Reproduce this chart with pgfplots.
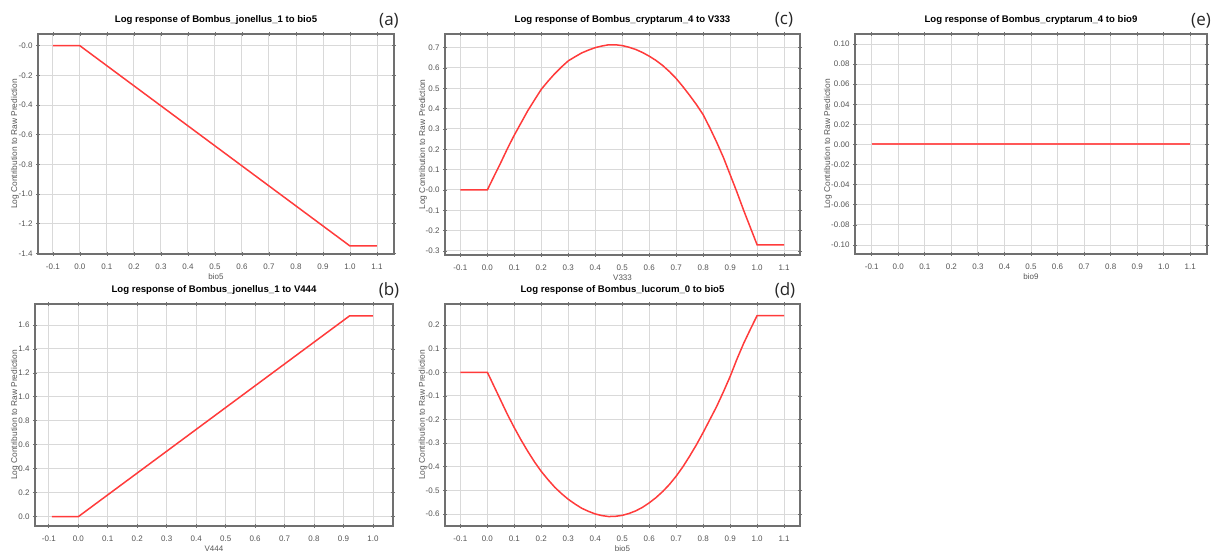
\documentclass[border=0pt]{standalone}
\usepackage{fontspec}
\setmainfont{Liberation Sans}
\newfontfamily\letterfont{Open Sans}
\usepackage{pgfplots}
\pgfplotsset{compat=1.18}
\definecolor{curve}{HTML}{FF3B3B}
\definecolor{gridc}{HTML}{D9D9D9}
\definecolor{framec}{HTML}{707070}
\definecolor{labc}{HTML}{555555}
\pgfplotsset{
  resp/.style={
    scale only axis,
    anchor=south west,
    axis line style={framec, line width=1.1pt},
    grid=major,
    major grid style={gridc, line width=0.9pt},
    tick style={framec, line width=0.7pt},
    major tick length=4pt,
    tick align=center,
    ticklabel style={font=\fontsize{8}{9}\selectfont, text=labc},
    xticklabel style={anchor=center, yshift=-11pt},
    xlabel style={font=\fontsize{8}{9}\selectfont, text=labc, at={(axis description cs:0.5,0)}, anchor=center, yshift=-22.5pt},
    ylabel style={font=\fontsize{8.4}{9}\selectfont, text=labc, anchor=center},
    title style={font=\bfseries\fontsize{9.6}{10}\selectfont, at={(axis description cs:0.5,1)}, anchor=south, yshift=0.3pt},
    ylabel={Log Contribution to Raw Prediction},
  },
  rline/.style={color=curve, line width=1.5pt, mark=none},
  x12/.style={xtick={-0.1,0,0.1,0.2,0.3,0.4,0.5,0.6,0.7,0.8,0.9,1,1.1},
    xticklabels={-0.1,0.0,0.1,0.2,0.3,0.4,0.5,0.6,0.7,0.8,0.9,1.0,1.1}},
}
\begin{document}
\begin{tikzpicture}
\useasboundingbox (0,0) rectangle (1220pt,551pt);
% (a)
\begin{axis}[resp, x12, at={(38pt,297pt)}, width=356pt, height=220pt,
  xmin=-0.155, xmax=1.163, ymin=-1.404, ymax=0.079,
  ytick={-1.4,-1.2,-1.0,-0.8,-0.6,-0.4,-0.2,0},
  yticklabels={-1.4,-1.2,-1.0,-0.8,-0.6,-0.4,-0.2,-0.0},
  title={Log response of Bombus\_jonellus\_1 to bio5},
  xlabel={bio5},
  ylabel style={at={(axis description cs:-0.0646,0.5)}}]
\addplot[rline] coordinates {(-0.1,0) (0,0) (1.0,-1.35) (1.1,-1.35)};
\end{axis}
% (b)
\begin{axis}[resp, at={(35pt,25pt)}, width=358pt, height=222pt,
  xmin=-0.147, xmax=1.068, ymin=-0.078, ymax=1.775,
  xtick={-0.1,0,0.1,0.2,0.3,0.4,0.5,0.6,0.7,0.8,0.9,1},
  xticklabels={-0.1,0.0,0.1,0.2,0.3,0.4,0.5,0.6,0.7,0.8,0.9,1.0},
  ytick={0,0.2,0.4,0.6,0.8,1.0,1.2,1.4,1.6},
  yticklabels={0.0,0.2,0.4,0.6,0.8,1.0,1.2,1.4,1.6},
  title={Log response of Bombus\_jonellus\_1 to V444},
  xlabel={V444},
  ylabel style={at={(axis description cs:-0.056,0.5)}}]
\addplot[rline] coordinates {(-0.09,0) (0,0) (0.92,1.675) (1.0,1.675)};
\end{axis}
% (c)
\begin{axis}[resp, x12, at={(445pt,296pt)}, width=355pt, height=221pt,
  xmin=-0.157, xmax=1.159, ymin=-0.32, ymax=0.767,
  ytick={-0.3,-0.2,-0.1,0,0.1,0.2,0.3,0.4,0.5,0.6,0.7},
  yticklabels={-0.3,-0.2,-0.1,-0.0,0.1,0.2,0.3,0.4,0.5,0.6,0.7},
  title={Log response of Bombus\_cryptarum\_4 to V333},
  xlabel={V333},
  ylabel style={at={(axis description cs:-0.062,0.5)}}]
\addplot[rline] coordinates {(-0.1,0) (0,0) (0.025,0.068) (0.05,0.135) (0.075,0.205)
  (0.1,0.27) (0.125,0.33) (0.15,0.39) (0.175,0.443) (0.2,0.495) (0.225,0.535)
  (0.25,0.572) (0.275,0.605) (0.3,0.635) (0.325,0.655) (0.35,0.674)
  (0.375,0.688) (0.4,0.70) (0.425,0.708) (0.45,0.714) (0.475,0.714)
  (0.5,0.71) (0.525,0.702) (0.55,0.691) (0.575,0.676) (0.6,0.658)
  (0.625,0.637) (0.65,0.612) (0.675,0.582) (0.7,0.548) (0.725,0.508)
  (0.75,0.465) (0.775,0.42) (0.8,0.37) (0.825,0.305) (0.85,0.235) (0.875,0.16)
  (0.9,0.075) (0.925,-0.01) (0.95,-0.1) (0.975,-0.185) (1.0,-0.27) (1.1,-0.27)};
\end{axis}
% (d)
\begin{axis}[resp, x12, at={(445pt,25pt)}, width=355pt, height=222pt,
  xmin=-0.157, xmax=1.159, ymin=-0.651, ymax=0.289,
  ytick={-0.6,-0.5,-0.4,-0.3,-0.2,-0.1,0,0.1,0.2},
  yticklabels={-0.6,-0.5,-0.4,-0.3,-0.2,-0.1,-0.0,0.1,0.2},
  title={Log response of Bombus\_lucorum\_0 to bio5},
  xlabel={bio5},
  ylabel style={at={(axis description cs:-0.063,0.5)}}]
\addplot[rline] coordinates {(-0.1,0) (0,0) (0.025,-0.06) (0.05,-0.12) (0.075,-0.18)
  (0.1,-0.235) (0.125,-0.287) (0.15,-0.335) (0.175,-0.38) (0.2,-0.42)
  (0.225,-0.455) (0.25,-0.487) (0.275,-0.514) (0.3,-0.538) (0.325,-0.558)
  (0.35,-0.576) (0.375,-0.589) (0.4,-0.60) (0.425,-0.607) (0.45,-0.611)
  (0.475,-0.61) (0.5,-0.606) (0.525,-0.598) (0.55,-0.587) (0.575,-0.572)
  (0.6,-0.553) (0.625,-0.531) (0.65,-0.505) (0.675,-0.475) (0.7,-0.44)
  (0.725,-0.4) (0.75,-0.355) (0.775,-0.307) (0.8,-0.255) (0.825,-0.2)
  (0.85,-0.145) (0.875,-0.083) (0.9,-0.018) (0.925,0.055) (0.95,0.122)
  (0.975,0.182) (1.0,0.24) (1.1,0.24)};
\end{axis}
% (e)
\begin{axis}[resp, x12, at={(855pt,297pt)}, width=352pt, height=220pt,
  xmin=-0.163, xmax=1.163, ymin=-0.109, ymax=0.110,
  ytick={-0.10,-0.08,-0.06,-0.04,-0.02,0,0.02,0.04,0.06,0.08,0.10},
  yticklabels={-0.10,-0.08,-0.06,-0.04,-0.02,0.00,0.02,0.04,0.06,0.08,0.10},
  title={Log response of Bombus\_cryptarum\_4 to bio9},
  xlabel={bio9},
  ylabel style={at={(axis description cs:-0.077,0.5)}}]
\addplot[rline, color=curve!85, line width=2pt] coordinates {(-0.1,0) (1.1,0)};
\end{axis}
\begin{scope}[every node/.style={font=\letterfont\fontsize{17}{18}\selectfont, text=black!85}]
\node at (389pt,530.5pt) {(a)};
\node at (389pt,260.5pt) {(b)};
\node at (784pt,531.5pt) {(c)};
\node at (785pt,260.5pt) {(d)};
\node at (1201pt,530.5pt) {(e)};
\end{scope}
\end{tikzpicture}
\end{document}
